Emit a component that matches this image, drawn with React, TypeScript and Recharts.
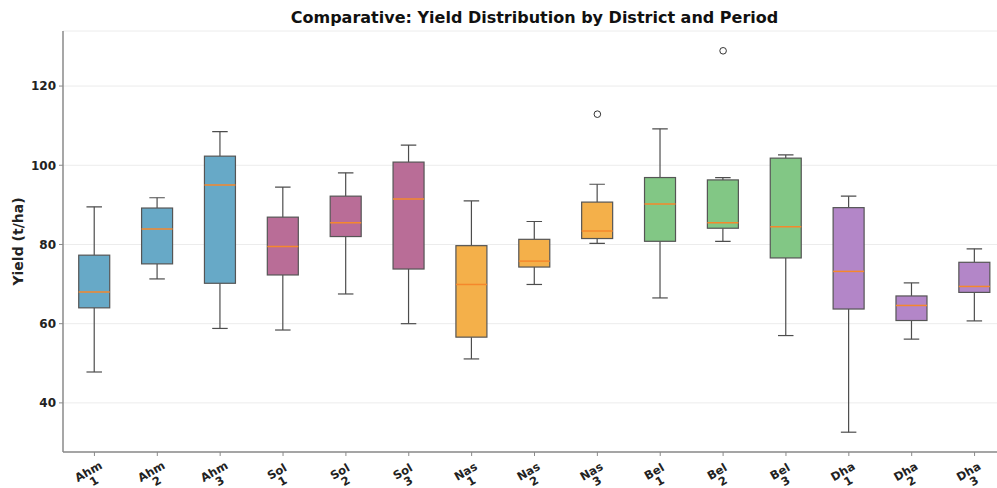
import React from 'react';
import {
  ComposedChart,
  Bar,
  Scatter,
  XAxis,
  YAxis,
  CartesianGrid,
} from 'recharts';

const labels = [
  'Ahm 1', 'Ahm 2', 'Ahm 3',
  'Sol 1', 'Sol 2', 'Sol 3',
  'Nas 1', 'Nas 2', 'Nas 3',
  'Bel 1', 'Bel 2', 'Bel 3',
  'Dha 1', 'Dha 2', 'Dha 3',
];
const whiskerLow = [47.8, 71.3, 58.8, 58.4, 67.5, 60.0, 51.1, 69.9, 80.3, 66.5, 80.8, 57.0, 32.6, 56.1, 60.7];
const q1 = [64.0, 75.1, 70.2, 72.3, 82.0, 73.8, 56.6, 74.3, 81.5, 80.8, 84.1, 76.6, 63.7, 60.8, 67.9];
const median = [68.0, 83.9, 95.0, 79.5, 85.5, 91.5, 69.9, 75.8, 83.4, 90.2, 85.5, 84.5, 73.2, 64.6, 69.4];
const q3 = [77.3, 89.2, 102.3, 86.9, 92.2, 100.8, 79.7, 81.3, 90.7, 96.9, 96.3, 101.8, 89.3, 67.0, 75.5];
const whiskerHigh = [89.5, 91.8, 108.5, 94.5, 98.1, 105.1, 91.0, 85.8, 95.2, 109.2, 96.9, 102.6, 92.2, 70.3, 78.9];
const outliers: (number | null)[] = [null, null, null, null, null, null, null, null, 112.9, null, 128.9, null, null, null, null];
const districtColors: Record<string, string> = {
  Ahm: '#67a9c7',
  Sol: '#b96d97',
  Nas: '#f4b04a',
  Bel: '#82c785',
  Dha: '#b386c8',
};
const yTicks = [40, 60, 80, 100, 120];

const data = labels.map((label, i) => ({
  label,
  box: [q1[i], q3[i]],
  low: whiskerLow[i],
  q1: q1[i],
  median: median[i],
  q3: q3[i],
  high: whiskerHigh[i],
  outlier: outliers[i],
}));

const FONT = '"DejaVu Sans", sans-serif';

function BoxShape(props: any) {
  const { x, y, width, height, payload } = props;
  if (x == null || y == null) return null;
  const top = Math.min(y, y + height);
  const h = Math.abs(height);
  const ppu = h / (payload.q3 - payload.q1);
  const toY = (v: number) => top + (payload.q3 - v) * ppu;
  const cx = x + width / 2;
  const capW = width / 2;
  const fill = districtColors[payload.label.split(' ')[0]];
  const line = '#4d4d4d';
  return (
    <g>
      <line x1={cx} x2={cx} y1={toY(payload.high)} y2={top} stroke={line} strokeWidth={1.2} />
      <line x1={cx} x2={cx} y1={top + h} y2={toY(payload.low)} stroke={line} strokeWidth={1.2} />
      <line x1={cx - capW / 2} x2={cx + capW / 2} y1={toY(payload.high)} y2={toY(payload.high)} stroke={line} strokeWidth={1.2} />
      <line x1={cx - capW / 2} x2={cx + capW / 2} y1={toY(payload.low)} y2={toY(payload.low)} stroke={line} strokeWidth={1.2} />
      <rect x={x} y={top} width={width} height={h} fill={fill} stroke="#555" strokeWidth={1.2} />
      <line x1={x} x2={x + width} y1={toY(payload.median)} y2={toY(payload.median)} stroke="#f5882c" strokeWidth={1.5} />
    </g>
  );
}

function OutlierShape(props: any) {
  const { cx, cy, payload } = props;
  if (payload == null || payload.outlier == null || cx == null || cy == null) return null;
  return <circle cx={cx} cy={cy} r={3.3} fill="none" stroke="#333" strokeWidth={1} />;
}

function XTick(props: any) {
  const { x, y, payload } = props;
  const [d, p] = String(payload.value).split(' ');
  return (
    <g transform={`translate(${x - 4}, ${y + 17}) rotate(-30)`}>
      <text x={0} y={0} textAnchor="middle" fontFamily={FONT} fontWeight="bold" fontSize={11.5} fill="#222">
        {d}
      </text>
      <text x={0} y={11} textAnchor="middle" fontFamily={FONT} fontWeight="bold" fontSize={11.5} fill="#222">
        {p}
      </text>
    </g>
  );
}

function YLabel(props: any) {
  const { viewBox } = props;
  const cy = viewBox.y + viewBox.height / 2;
  return (
    <text
      x={23}
      y={cy}
      transform={`rotate(-90, 23, ${cy})`}
      textAnchor="middle"
      fontFamily={FONT}
      fontWeight="bold"
      fontSize={14}
      fill="#222"
    >
      Yield (t/ha)
    </text>
  );
}

export default function App() {
  return (
    <div style={{ position: 'fixed', left: 0, top: 0, width: 997, height: 488, overflow: 'hidden', background: '#fff' }}>
      <div
        style={{
          position: 'absolute',
          left: 63,
          top: 8,
          width: 943,
          textAlign: 'center',
          fontFamily: FONT,
          fontWeight: 'bold',
          fontSize: 16,
          lineHeight: '20px',
          color: '#111',
        }}
      >
        Comparative: Yield Distribution by District and Period
      </div>
      <ComposedChart
        width={1010}
        height={488}
        data={data}
        margin={{ top: 31, right: 4, bottom: 0, left: 0 }}
        barCategoryGap="25%"
      >
        <CartesianGrid horizontal vertical={false} stroke="#ececec" strokeWidth={1} />
        <XAxis
          dataKey="label"
          height={36}
          interval={0}
          tick={<XTick />}
          tickSize={4}
          axisLine={{ stroke: '#8a8a8a', strokeWidth: 1.5 }}
          tickLine={{ stroke: '#8a8a8a' }}
        />
        <XAxis
          xAxisId="top"
          dataKey="label"
          orientation="top"
          height={0}
          tick={false}
          tickLine={false}
          axisLine={{ stroke: '#8a8a8a', strokeWidth: 1.5 }}
        />
        <YAxis
          width={63}
          domain={[27.6, 133.9]}
          ticks={yTicks}
          allowDataOverflow
          tickSize={4}
          tickMargin={3}
          axisLine={{ stroke: '#8a8a8a', strokeWidth: 1.5 }}
          tickLine={{ stroke: '#8a8a8a' }}
          tick={{ fontFamily: FONT, fontWeight: 'bold', fontSize: 12, fill: '#222' }}
          label={<YLabel />}
        />
        <Bar dataKey="box" shape={<BoxShape />} isAnimationActive={false} />
        <Scatter dataKey="outlier" shape={<OutlierShape />} isAnimationActive={false} />
      </ComposedChart>
    </div>
  );
}
